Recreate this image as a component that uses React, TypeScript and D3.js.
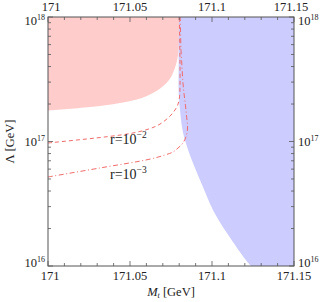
import * as d3 from "d3";

// Mt in GeV, Lambda in GeV
const pinkMt = [171.0799, 171.0799, 171.0793, 171.0774, 171.0738, 171.0671, 171.0573, 171.0439, 171.0256, 171.0];
const pinkLambda = [1e18, 6.53e17, 4.95e17, 3.89e17, 3.12e17, 2.59e17, 2.24e17, 2.04e17, 1.89e17, 1.77e17];

const blueMt = [171.0799, 171.0797, 171.0797, 171.0805, 171.0817, 171.0835, 171.0884, 171.0945, 171.1006, 171.1091, 171.122, 171.1238];
const blueLambda = [1e18, 4.52e17, 2.45e17, 1.79e17, 1.31e17, 1.03e17, 6.72e16, 4.31e16, 2.82e16, 1.84e16, 1.06e16, 1e16];

const r2Mt = [171.0, 171.0213, 171.0378, 171.0518, 171.0622, 171.0683, 171.0744, 171.0774, 171.0793, 171.0802, 171.0805, 171.0805, 171.0804, 171.0802, 171.0801];
const r2Lambda = [9.73e16, 1.04e17, 1.1e17, 1.17e17, 1.27e17, 1.38e17, 1.6e17, 1.79e17, 2.0e17, 2.28e17, 2.84e17, 3.96e17, 5.43e17, 7.87e17, 1e18];

const r3Mt = [171.0, 171.0317, 171.0622, 171.0713, 171.0762, 171.0793, 171.0823, 171.0845, 171.0851, 171.0846, 171.0838, 171.0829, 171.0823, 171.0817, 171.0811, 171.0808, 171.0806];
const r3Lambda = [5.19e16, 6.13e16, 7.22e16, 7.79e16, 8.24e16, 8.87e16, 9.73e16, 1.13e17, 1.31e17, 1.55e17, 1.96e17, 2.45e17, 2.95e17, 3.96e17, 5.43e17, 7.87e17, 1e18];

const xTickLabels = ["171", "171.05", "171.1", "171.15"];
const xMajor = [171, 171.05, 171.1, 171.15];
const yMajorExp = [16, 17, 18];

const W = 324;
const H = 302;
const L = 48;
const R = 294;
const T = 17;
const B = 266;
const FONT = "'Liberation Serif', 'Times New Roman', serif";

export default function App() {
  const x = d3.scaleLinear().domain([171, 171.15]).range([L, R]);
  const y = d3.scaleLog().domain([1e16, 1e18]).range([B, T]);

  const toPts = (xs: number[], ys: number[]) => xs.map((v, i) => [v, ys[i]] as [number, number]);
  const line = d3
    .line<[number, number]>()
    .x((d) => x(d[0]))
    .y((d) => y(d[1]))
    .curve(d3.curveCatmullRom.alpha(0.5));

  const pinkPath = line(toPts(pinkMt, pinkLambda)) + `L${x(171)},${y(1e18)}Z`;
  const bluePath =
    line(toPts(blueMt, blueLambda)) + `L${x(171.15)},${y(1e16)}L${x(171.15)},${y(1e18)}Z`;

  const xMinor = d3.range(0, 16).map((i) => 171 + i * 0.01).filter((v) => !xMajor.some((m) => Math.abs(m - v) < 1e-6));
  const yMinor: number[] = [];
  [16, 17].forEach((e) => {
    for (let k = 2; k <= 9; k++) yMinor.push(k * Math.pow(10, e));
  });

  const frame = "#555";
  const major = 5;
  const minor = 3;

  // vertical nudge of the power labels so they clear the corner tick labels
  const yNudge = (e: number) => (e === 18 ? 8 : e === 16 ? 1 : 4);

  return (
    <svg width={W} height={H} style={{ position: "absolute", left: 0, top: 0, background: "#fff" }}>
      <path d={pinkPath} fill="#ffcccc" />
      <path d={bluePath} fill="#ccccff" />
      <path d={line(toPts(r2Mt, r2Lambda)) || ""} fill="none" stroke="#f26b6b" strokeWidth={1} strokeDasharray="4,3" />
      <path d={line(toPts(r3Mt, r3Lambda)) || ""} fill="none" stroke="#f26b6b" strokeWidth={1} strokeDasharray="5,2.5,1,2.5" />

      <g fontFamily={FONT} fill="#222">
        <text x={110} y={144} fontSize={14}>
          r=10<tspan dy={-6} fontSize={9.5}>−2</tspan>
        </text>
        <text x={110} y={179} fontSize={14}>
          r=10<tspan dy={-6} fontSize={9.5}>−3</tspan>
        </text>
      </g>

      {/* frame */}
      <rect x={L} y={T} width={R - L} height={B - T} fill="none" stroke={frame} strokeWidth={1} />

      {/* ticks */}
      <g stroke={frame} strokeWidth={0.8}>
        {xMajor.map((v) => (
          <g key={"xm" + v}>
            <line x1={x(v)} x2={x(v)} y1={B} y2={B - major} />
            <line x1={x(v)} x2={x(v)} y1={T} y2={T + major} />
          </g>
        ))}
        {xMinor.map((v) => (
          <g key={"xn" + v}>
            <line x1={x(v)} x2={x(v)} y1={B} y2={B - minor} />
            <line x1={x(v)} x2={x(v)} y1={T} y2={T + minor} />
          </g>
        ))}
        {yMajorExp.map((e) => (
          <g key={"ym" + e}>
            <line x1={L} x2={L + major} y1={y(Math.pow(10, e))} y2={y(Math.pow(10, e))} />
            <line x1={R} x2={R - major} y1={y(Math.pow(10, e))} y2={y(Math.pow(10, e))} />
          </g>
        ))}
        {yMinor.map((v) => (
          <g key={"yn" + v}>
            <line x1={L} x2={L + minor} y1={y(v)} y2={y(v)} />
            <line x1={R} x2={R - minor} y1={y(v)} y2={y(v)} />
          </g>
        ))}
      </g>

      {/* tick labels */}
      <g fontFamily={FONT} fontSize={12.5} fill="#222">
        {xMajor.map((v, i) => (
          <g key={"xl" + v}>
            <text x={x(v) + (i === 0 ? 2 : 0)} y={B + 14} textAnchor="middle">{xTickLabels[i]}</text>
            <text x={x(v) + (i === 0 ? 3 : i === 3 ? -3 : 0)} y={T - 6} textAnchor="middle">{xTickLabels[i]}</text>
          </g>
        ))}
        {yMajorExp.map((e) => (
          <g key={"yl" + e}>
            <text x={L - 3} y={y(Math.pow(10, e)) + yNudge(e)} textAnchor="end">
              10<tspan dy={-5} fontSize={8}>{e}</tspan>
            </text>
            <text x={R + 4} y={y(Math.pow(10, e)) + yNudge(e)} textAnchor="start">
              10<tspan dy={-5} fontSize={8}>{e}</tspan>
            </text>
          </g>
        ))}
      </g>

      {/* axis titles */}
      <g fontFamily={FONT} fontSize={12.5} fill="#222">
        <text x={(L + R) / 2} y={296} textAnchor="middle">
          <tspan fontStyle="italic">M</tspan>
          <tspan fontStyle="italic" fontSize={8} dy={2}>t</tspan>
          <tspan dy={-2}> [GeV]</tspan>
        </text>
        <text transform={`translate(14, ${(T + B) / 2}) rotate(-90)`} textAnchor="middle">
          Λ [GeV]
        </text>
      </g>
    </svg>
  );
}
